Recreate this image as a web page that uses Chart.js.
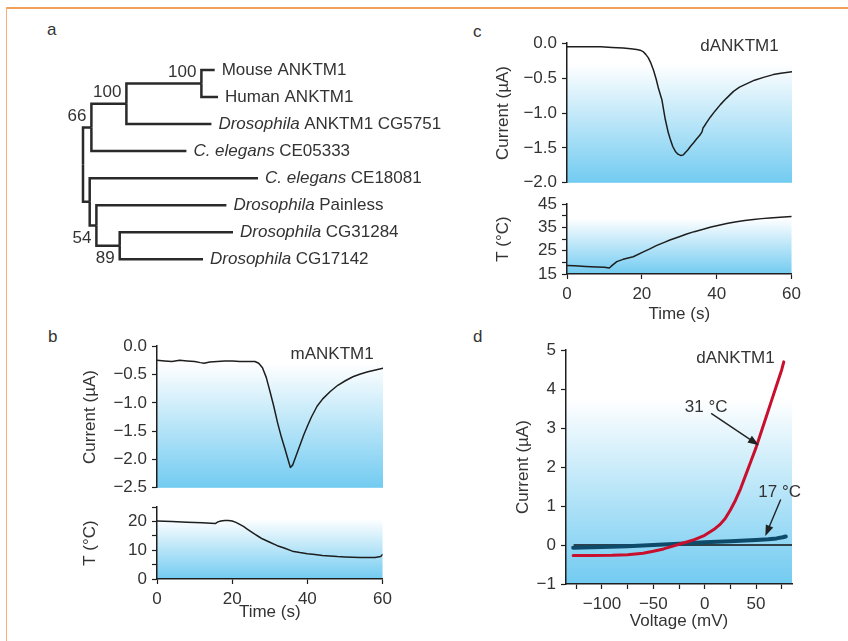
<!DOCTYPE html>
<html>
<head>
<meta charset="utf-8">
<script src="https://cdn.jsdelivr.net/npm/chart.js@4.4.1/dist/chart.umd.min.js"></script>
<style>
  body { margin: 0; background: #fff; width: 848px; height: 641px; overflow: hidden; position: relative;
         font-family: "Liberation Sans", Arial, sans-serif; }
  canvas { position: absolute; }
  .frame-top { position: absolute; left: 6px; top: 7px; width: 842px; height: 2px; background: #f0a058; }
  .frame-left { position: absolute; left: 6px; top: 7px; width: 1px; height: 634px; background: #f3b27a; }
  .letter { position: absolute; font-size: 17px; line-height: 17px; color: #333; }
</style>
</head>
<body>
<div class="frame-top"></div>
<div class="frame-left"></div>
<div class="letter" style="left:47px;top:21px">a</div>
<div class="letter" style="left:48px;top:328px">b</div>
<div class="letter" style="left:473px;top:23px">c</div>
<div class="letter" style="left:473px;top:328px">d</div>

<canvas id="tree"></canvas>
<canvas id="bCur"></canvas>
<canvas id="bTmp"></canvas>
<canvas id="cCur"></canvas>
<canvas id="cTmp"></canvas>
<canvas id="dIV"></canvas>

<script>
// ---------- data ----------
// panel a: tree (branch depths measured from the root)
const leafGenus = ['', '', 'Drosophila', 'C. elegans', 'C. elegans', 'Drosophila', 'Drosophila', 'Drosophila'];
const leafName = ['Mouse ANKTM1', 'Human ANKTM1', 'ANKTM1 CG5751', 'CE05333', 'CE18081', 'Painless', 'CG31284', 'CG17142'];
const leafDepth = [131.7, 135, 128.4, 103.4, 175, 143.4, 150, 120];
const leafParent = ['n100b', 'n100b', 'n100a', 'n66', 'nLow', 'n54', 'n89', 'n89'];
const nodeNames = ['root', 'n66', 'n100a', 'n100b', 'nLow', 'n54', 'n89'];
const nodeParent = [null, 'root', 'n66', 'n100a', 'root', 'nLow', 'n54'];
const nodeDepth = [0, 8.4, 43.4, 118.4, 6.7, 13.4, 36.7];
const nodeSupport = [null, 66, 100, 100, null, 54, 89];

// panel b: mANKTM1
const bTime = [0, 2, 4, 6, 8, 10, 11.5, 12.5, 14, 16, 18, 20, 22, 24, 26, 27, 28, 29, 30, 31, 32, 33, 34, 35, 35.4,
  36, 37, 38, 39, 40, 41, 42.5, 44, 46, 48, 50, 52, 54, 56, 58, 60];
const bCurrent = [-0.25, -0.26, -0.27, -0.25, -0.26, -0.27, -0.29, -0.30, -0.28, -0.27, -0.26, -0.26, -0.27, -0.27,
  -0.27, -0.30, -0.38, -0.55, -0.80, -1.06, -1.35, -1.60, -1.82, -2.05, -2.14, -2.10, -1.92, -1.74, -1.56, -1.40,
  -1.25, -1.06, -0.93, -0.80, -0.69, -0.61, -0.54, -0.49, -0.45, -0.42, -0.39];
const bTempTime = [0, 4, 8, 12, 15.5, 16.2, 17, 18, 19, 20, 21, 22, 23, 24, 25, 26, 27, 28, 30, 32, 34, 36, 38, 40,
  42, 44, 46, 48, 50, 52, 54, 56, 58, 59.5, 60];
const bTemp = [20.2, 20.0, 19.8, 19.6, 19.3, 19.9, 20.2, 20.4, 20.4, 20.2, 19.7, 19.0, 18.3, 17.4, 16.5, 15.6, 14.8,
  14.0, 12.8, 11.6, 10.7, 9.7, 9.2, 8.8, 8.5, 8.2, 8.0, 7.8, 7.7, 7.6, 7.5, 7.5, 7.5, 7.8, 8.5];

// panel c: dANKTM1
const cTime = [0, 3, 6, 9, 12, 15, 17, 18.6, 19.5, 20.4, 21, 21.7, 22.4, 23.1, 23.8, 24.4, 25.3, 26.2, 27, 27.5,
  28.2, 28.9, 29.6, 30.4, 31, 31.5, 32.2, 32.9, 33.7, 34.6, 35.4, 36, 36.3, 36.6, 37.3, 38.2, 39.5, 40.9, 42.5,
  44.4, 46, 48, 50, 52.4, 55, 57, 60];
const cCurrent = [-0.05, -0.05, -0.05, -0.05, -0.06, -0.07, -0.08, -0.09, -0.10, -0.125, -0.16, -0.21, -0.29,
  -0.39, -0.52, -0.65, -0.81, -1.09, -1.28, -1.37, -1.48, -1.55, -1.59, -1.61, -1.60, -1.57, -1.53, -1.48, -1.43,
  -1.37, -1.32, -1.27, -1.21, -1.19, -1.13, -1.06, -0.97, -0.88, -0.79, -0.69, -0.63, -0.58, -0.53, -0.49, -0.45,
  -0.43, -0.41];
const cTempTime = [0, 2, 5, 8, 10, 11.3, 12, 13.3, 15, 17.7, 20.4, 22, 24, 26, 27.5, 30, 32, 34, 36.4, 38.5, 40.9,
  43, 45.3, 47.5, 49.8, 52, 54.2, 57, 60];
const cTemp = [18.6, 18.5, 18.2, 18.0, 17.9, 17.6, 18.6, 20.3, 21.3, 22.4, 24.5, 25.7, 27.3, 28.6, 29.6, 31.0, 32.2,
  33.2, 34.2, 35.2, 36.1, 36.8, 37.5, 38.0, 38.4, 38.8, 39.1, 39.4, 39.7];

// panel d: I-V curves
const dVolt31 = [-128, -110, -90, -75, -60, -50, -40, -30, -20, -10, 0, 10, 15, 20, 25, 30, 35, 40, 45, 50, 55, 60,
  65, 70, 75, 77];
const dCur31 = [-0.27, -0.27, -0.265, -0.25, -0.21, -0.16, -0.10, -0.02, 0.06, 0.14, 0.25, 0.42, 0.53, 0.68, 0.90,
  1.15, 1.45, 1.80, 2.15, 2.50, 2.90, 3.30, 3.70, 4.10, 4.50, 4.70];
const dVolt17 = [-128, -100, -75, -50, -25, 0, 25, 50, 62, 70, 76, 79];
const dCur17 = [-0.07, -0.05, -0.03, 0.0, 0.03, 0.07, 0.10, 0.13, 0.15, 0.17, 0.20, 0.22];
const dZeroVolt = [-127, 85];

// tick values and labelled ticks
const timeTicks = [0, 20, 40, 60];
const bCurTicks = [0, -0.5, -1, -1.5, -2, -2.5];
const bTmpTicks = [0, 5, 10, 15, 20, 25];
const bTmpLabels = [0, 10, 20];
const cCurTicks = [0, -0.5, -1, -1.5, -2];
const cTmpTicks = [15, 20, 25, 30, 35, 40, 45];
const cTmpLabels = [15, 25, 35, 45];
const dVoltTicks = [-125, -100, -75, -50, -25, 0, 25, 50, 75];
const dVoltLabels = [-100, -50, 0, 50];
const dCurTicks = [-1, 0, 1, 2, 3, 4, 5];

// ---------- helpers ----------
const FAMILY = "'Liberation Sans', Arial, sans-serif";
const axisFont = {family: FAMILY, size: 17};
const ink = '#333333';
const lineInk = '#1e1e1e';

function signed(v, digits) {
  return (v < 0 ? '\u2212' : '') + Math.abs(v).toFixed(digits);
}

function xy(xs, ys) {
  return xs.map((x, i) => ({x: x, y: ys[i]}));
}

// blue fade behind the plot area
const shade = {
  id: 'shade',
  beforeDraw(chart, args, o) {
    if (o.from === undefined) return;
    const {ctx, chartArea: a, scales} = chart;
    const top = scales.y.getPixelForValue(o.from);
    const g = ctx.createLinearGradient(0, top, 0, a.bottom);
    g.addColorStop(0, '#ffffff');
    g.addColorStop(1, '#72cbf1');
    ctx.save();
    ctx.fillStyle = g;
    ctx.fillRect(a.left, top, a.right - a.left, a.bottom - top);
    ctx.restore();
  }
};

// text labels and arrows placed in data units
const notes = {
  id: 'notes',
  afterDatasetsDraw(chart, args, o) {
    const {ctx, scales: {x, y}} = chart;
    ctx.save();
    ctx.fillStyle = ink;
    ctx.font = '17px ' + FAMILY;
    ctx.textAlign = 'center';
    ctx.textBaseline = 'middle';
    (o.texts || []).forEach(n => ctx.fillText(n.text, x.getPixelForValue(n.x), y.getPixelForValue(n.y)));
    (o.arrows || []).forEach(a => {
      const x1 = x.getPixelForValue(a.x1), y1 = y.getPixelForValue(a.y1);
      const x2 = x.getPixelForValue(a.x2), y2 = y.getPixelForValue(a.y2);
      const ang = Math.atan2(y2 - y1, x2 - x1);
      ctx.strokeStyle = '#222';
      ctx.fillStyle = '#222';
      ctx.lineWidth = 1.4;
      ctx.beginPath();
      ctx.moveTo(x1, y1);
      ctx.lineTo(x2 - 8 * Math.cos(ang), y2 - 8 * Math.sin(ang));
      ctx.stroke();
      ctx.beginPath();
      ctx.moveTo(x2, y2);
      ctx.lineTo(x2 - 11 * Math.cos(ang) + 4 * Math.sin(ang), y2 - 11 * Math.sin(ang) - 4 * Math.cos(ang));
      ctx.lineTo(x2 - 11 * Math.cos(ang) - 4 * Math.sin(ang), y2 - 11 * Math.sin(ang) + 4 * Math.cos(ang));
      ctx.closePath();
      ctx.fill();
    });
    ctx.restore();
  }
};

function scaleOpts(s, size, dir) {
  if (!size) return {type: 'linear', display: false, min: s.min, max: s.max};
  const labels = s.labels || s.ticks;
  return {
    type: 'linear', min: s.min, max: s.max,
    afterFit: sc => { if (dir === 'x') sc.height = size; else sc.width = size; },
    afterBuildTicks: sc => { sc.ticks = s.ticks.map(v => ({value: v})); },
    ticks: {
      autoSkip: false, maxRotation: 0, padding: 5, color: ink, font: axisFont,
      callback: v => labels.includes(v) ? signed(v, s.digits) : ''
    },
    grid: {drawOnChartArea: false, drawTicks: true, tickLength: 5, tickColor: lineInk, tickWidth: 1.2},
    border: {display: true, color: lineInk, width: 1.5},
    title: {display: true, text: s.title, color: ink, font: axisFont, padding: {top: 4, bottom: 4}}
  };
}

// area = where the plot box sits on the page
function plot(id, area, spec) {
  const padT = 14, padR = 14, padB = 12;
  const cv = document.getElementById(id);
  cv.width = area.r - area.l + spec.yW + padR;
  cv.height = area.b - area.t + padT + (spec.xH || padB);
  cv.style.left = (area.l - spec.yW) + 'px';
  cv.style.top = (area.t - padT) + 'px';
  return new Chart(cv, {
    type: 'line',
    data: {datasets: spec.datasets},
    plugins: [shade, notes],
    options: {
      responsive: false, animation: false, devicePixelRatio: 1,
      layout: {padding: {left: 0, top: padT, right: padR, bottom: spec.xH ? 0 : padB}},
      plugins: {
        legend: {display: false}, tooltip: {enabled: false},
        shade: {from: spec.shadeFrom},
        notes: {texts: spec.texts, arrows: spec.arrows}
      },
      scales: {
        x: scaleOpts(spec.x, spec.xH, 'x'),
        y: scaleOpts(spec.y, spec.yW, 'y')
      }
    }
  });
}

function trace(points, color, width) {
  return {data: points, borderColor: color, borderWidth: width, pointRadius: 0, tension: 0,
    borderCapStyle: 'round', borderJoinStyle: 'round', fill: false};
}

// ---------- panel a: tree ----------
function parentDepth(name) { return nodeDepth[nodeNames.indexOf(name)]; }
const yCache = {};
function nodeY(name) {
  if (yCache[name] !== undefined) return yCache[name];
  const ys = [];
  leafParent.forEach((p, i) => { if (p === name) ys.push(i); });
  nodeParent.forEach((p, j) => { if (p === name) ys.push(nodeY(nodeNames[j])); });
  yCache[name] = (Math.min(...ys) + Math.max(...ys)) / 2;
  return yCache[name];
}
const branches = [];
leafParent.forEach((p, i) => {
  branches.push([{x: parentDepth(p), y: nodeY(p)}, {x: parentDepth(p), y: i}, {x: leafDepth[i], y: i}]);
});
nodeParent.forEach((p, j) => {
  if (!p) return;
  const cy = nodeY(nodeNames[j]);
  branches.push([{x: parentDepth(p), y: nodeY(p)}, {x: parentDepth(p), y: cy}, {x: nodeDepth[j], y: cy}]);
});

const treeText = {
  id: 'treeText',
  afterDatasetsDraw(chart) {
    const {ctx, scales: {x, y}} = chart;
    ctx.save();
    ctx.fillStyle = ink;
    ctx.textBaseline = 'middle';
    ctx.textAlign = 'left';
    leafName.forEach((name, i) => {
      let px = x.getPixelForValue(leafDepth[i]) + 7;
      const py = y.getPixelForValue(i);
      if (leafGenus[i]) {
        ctx.font = 'italic 17px ' + FAMILY;
        ctx.fillText(leafGenus[i], px, py);
        px += ctx.measureText(leafGenus[i]).width + 4.5;
      }
      ctx.font = '17px ' + FAMILY;
      ctx.fillText(name, px, py);
    });
    const rootY = nodeY('root');
    ctx.textAlign = 'right';
    ctx.font = '17px ' + FAMILY;
    nodeSupport.forEach((s, j) => {
      if (s === null) return;
      const ny = nodeY(nodeNames[j]);
      const py = y.getPixelForValue(ny) + (ny < rootY ? -11 : 13);
      ctx.fillText(String(s), x.getPixelForValue(nodeDepth[j]) - 5, py);
    });
    ctx.restore();
  }
};

(function () {
  const cv = document.getElementById('tree');
  const unit = 27.04;
  cv.width = 400; cv.height = 230;
  cv.style.left = '60px'; cv.style.top = '50px';
  new Chart(cv, {
    type: 'scatter',
    data: {datasets: branches.map(b => ({data: b, showLine: true, borderColor: '#2a2a2a', borderWidth: 2.5,
      pointRadius: 0, borderCapStyle: 'butt', borderJoinStyle: 'miter'}))},
    plugins: [treeText],
    options: {
      responsive: false, animation: false, devicePixelRatio: 1,
      layout: {padding: 0},
      plugins: {legend: {display: false}, tooltip: {enabled: false}},
      scales: {
        x: {type: 'linear', display: false, min: -23, max: 377},
        y: {type: 'linear', display: false, reverse: true, min: -20 / unit, max: -20 / unit + 230 / unit}
      }
    }
  });
})();

// ---------- panel b ----------
plot('bCur', {l: 157, r: 383, t: 345, b: 491}, {
  yW: 81, xH: 0, shadeFrom: -0.3,
  x: {min: 0, max: 60},
  y: {min: -2.5, max: 0, ticks: bCurTicks, digits: 1, title: 'Current (\u00b5A)'},
  datasets: [trace(xy(bTime, bCurrent), lineInk, 1.5)],
  texts: [{text: 'mANKTM1', x: 46.5, y: -0.14}]
});
plot('bTmp', {l: 157, r: 383, t: 506, b: 579}, {
  yW: 81, xH: 48, shadeFrom: 21,
  x: {min: 0, max: 60, ticks: timeTicks, digits: 0, title: 'Time (s)'},
  y: {min: 0, max: 25, ticks: bTmpTicks, labels: bTmpLabels, digits: 0, title: 'T (\u00b0C)'},
  datasets: [trace(xy(bTempTime, bTemp), lineInk, 1.5)]
});

// ---------- panel c ----------
plot('cCur', {l: 567, r: 792, t: 42, b: 186}, {
  yW: 78, xH: 0, shadeFrom: -0.3,
  x: {min: 0, max: 60},
  y: {min: -2, max: 0, ticks: cCurTicks, digits: 1, title: 'Current (\u00b5A)'},
  datasets: [trace(xy(cTime, cCurrent), lineInk, 1.5)],
  texts: [{text: 'dANKTM1', x: 46, y: -0.04}]
});
plot('cTmp', {l: 567, r: 792, t: 203, b: 274}, {
  yW: 78, xH: 55, shadeFrom: 39,
  x: {min: 0, max: 60, ticks: timeTicks, digits: 0, title: 'Time (s)'},
  y: {min: 15, max: 45, ticks: cTmpTicks, labels: cTmpLabels, digits: 0, title: 'T (\u00b0C)'},
  datasets: [trace(xy(cTempTime, cTemp), lineInk, 1.5)]
});

// ---------- panel d ----------
plot('dIV', {l: 566, r: 792, t: 349, b: 584}, {
  yW: 57, xH: 52, shadeFrom: 3.75,
  x: {min: -135, max: 85, ticks: dVoltTicks, labels: dVoltLabels, digits: 0, title: 'Voltage (mV)'},
  y: {min: -1, max: 5, ticks: dCurTicks, digits: 0, title: 'Current (\u00b5A)'},
  datasets: [
    trace(xy(dVolt31, dCur31), '#c8102e', 3),
    trace(xy(dVolt17, dCur17), '#0e4b6b', 4),
    trace(xy(dZeroVolt, [0, 0]), '#111111', 1.5)
  ],
  texts: [
    {text: 'dANKTM1', x: 30, y: 4.78},
    {text: '31 \u00b0C', x: 1.5, y: 3.53},
    {text: '17 \u00b0C', x: 73, y: 1.35}
  ],
  arrows: [
    {x1: 6.3, y1: 3.38, x2: 52.7, y2: 2.56},
    {x1: 74, y1: 1.17, x2: 59, y2: 0.23}
  ]
});
</script>
</body>
</html>
